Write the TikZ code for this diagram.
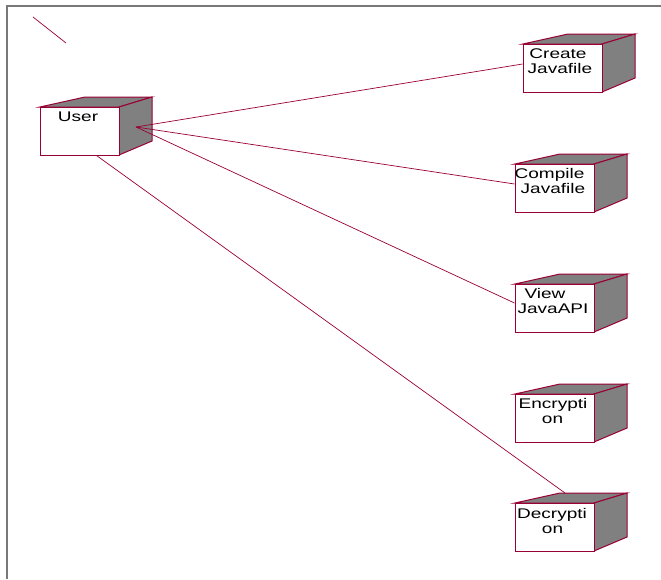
\documentclass[tikz,border=0pt]{standalone}
\usepackage{fontspec}
\newfontfamily\rosefont[FakeStretch=1.36]{Liberation Sans}
\usetikzlibrary{calc}
\definecolor{rose}{RGB}{153,0,51}
\definecolor{shade}{RGB}{128,128,128}
\definecolor{framegray}{RGB}{120,120,120}
\tikzset{
  frontbox/.style={draw=rose, line width=1pt, fill=white, rectangle, minimum width=79pt, minimum height=48pt, inner sep=0pt},
  sideface/.style={draw=rose, line width=1pt, fill=shade, line join=miter},
  lbl/.style={font=\rosefont\fontsize{14}{15}\selectfont, anchor=base, inner sep=0pt, text=black},
  conn/.style={draw=rose, line width=0.7pt},
}
\newcommand{\cubeat}[3]{%
  \fill[sideface] (#2,#3) -- (#2+45,#3-10) -- (#2+112,#3-10) -- (#2+79,#3) -- cycle;
  \fill[sideface] (#2+79,#3) -- (#2+112,#3-10) -- (#2+112,#3+34) -- (#2+79,#3+48) -- cycle;
  \node[frontbox] (#1) at (#2+39.5,#3+24) {};
}
\begin{document}
\begin{tikzpicture}[x=1pt,y=-1pt]
\useasboundingbox (0,0) rectangle (661,579);
\fill[white] (0,0) rectangle (661,579);
% frame
\draw[framegray, line width=2pt] (661,6) -- (7,6) -- (7,579);
% decorative stroke
\coordinate (d1) at (33,17);
\coordinate (d2) at (66,43);
\draw[conn] (d1) -- (d2);
% boxes
\cubeat{user}{40}{107}
\cubeat{create}{523}{44}
\cubeat{compile}{515}{164}
\cubeat{view}{515}{284}
\cubeat{encrypt}{515}{394}
\cubeat{decrypt}{515}{503}
% labels
\node[lbl] (userlbl) at (78,121) {User};
\node[lbl] (createlbl1) at (558,58.5) {Create};
\node[lbl] (createlbl2) at (560,73.5) {Javafile};
\node[lbl] (compilelbl1) at (549.5,178.5) {Compile};
\node[lbl] (compilelbl2) at (553,193.5) {Javafile};
\node[lbl] (viewlbl1) at (545,298.5) {View};
\node[lbl] (viewlbl2) at (553,313.5) {JavaAPI};
\node[lbl] (enclbl1) at (553,408.5) {Encrypti};
\node[lbl] (enclbl2) at (552.5,423.5) {on};
\node[lbl] (declbl1) at (552,518) {Decrypti};
\node[lbl] (declbl2) at (552.5,533) {on};
% connectors
\coordinate (hub) at (136,127);
\draw[conn] (hub) -- ($(create.west)+(0,-4)$);
\draw[conn] (hub) -- ($(compile.west)+(0,-4)$);
\draw[conn] (hub) -- ($(view.west)+(0,-5)$);
\coordinate (dectop) at (565,493);
\draw[conn] ($(user.south)+(17,0)$) -- (dectop);
\end{tikzpicture}
\end{document}
